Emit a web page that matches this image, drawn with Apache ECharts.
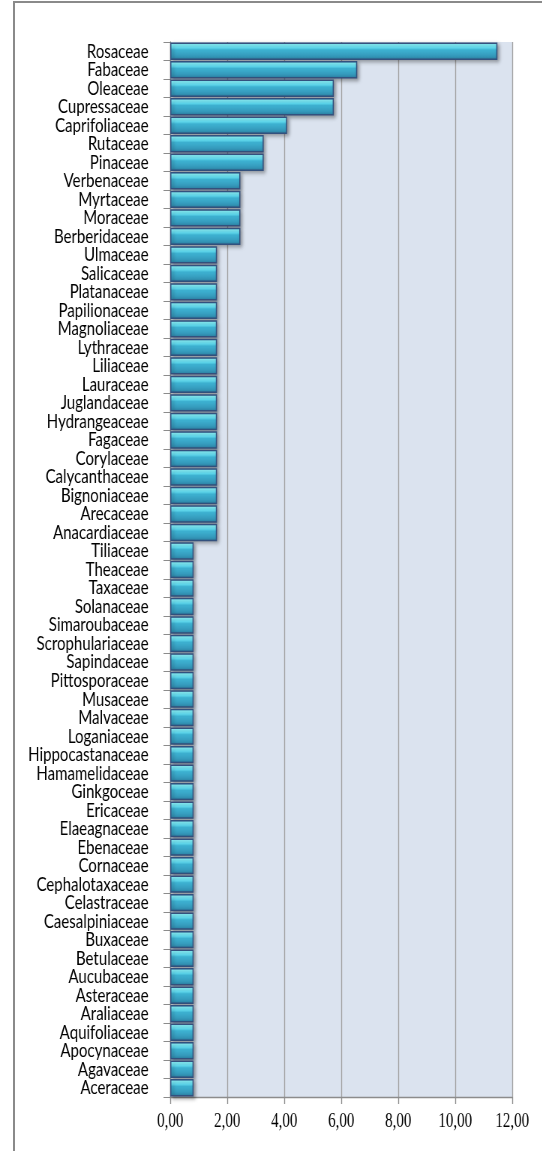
<!DOCTYPE html>
<html>
<head>
<meta charset="utf-8">
<title>Families</title>
<script src="https://cdn.jsdelivr.net/npm/echarts@6/dist/echarts.min.js"></script>
<style>
  html, body { margin: 0; padding: 0; background: #ffffff; overflow: hidden; }
  #frame { position: relative; width: 542px; height: 1151px; overflow: hidden; }
  /* chart is laid out wider and squeezed horizontally, giving condensed lettering */
  #chart { width: 723px; height: 1151px; transform: scaleX(0.75); transform-origin: 0 0; }
  #border { position: absolute; left: 13px; top: 1px; width: 700px; height: 1300px;
            border: 2px solid #8a8a8a; box-sizing: border-box; pointer-events: none; }
</style>
</head>
<body>
<div id="frame">
  <div id="chart"></div>
  <div id="border"></div>
</div>
<script>
// Plant families, listed top to bottom
const families = [
  'Rosaceae', 'Fabaceae', 'Oleaceae', 'Cupressaceae', 'Caprifoliaceae', 'Rutaceae',
  'Pinaceae', 'Verbenaceae', 'Myrtaceae', 'Moraceae', 'Berberidaceae', 'Ulmaceae',
  'Salicaceae', 'Platanaceae', 'Papilionaceae', 'Magnoliaceae', 'Lythraceae', 'Liliaceae',
  'Lauraceae', 'Juglandaceae', 'Hydrangeaceae', 'Fagaceae', 'Corylaceae', 'Calycanthaceae',
  'Bignoniaceae', 'Arecaceae', 'Anacardiaceae', 'Tiliaceae', 'Theaceae', 'Taxaceae',
  'Solanaceae', 'Simaroubaceae', 'Scrophulariaceae', 'Sapindaceae', 'Pittosporaceae', 'Musaceae',
  'Malvaceae', 'Loganiaceae', 'Hippocastanaceae', 'Hamamelidaceae', 'Ginkgoceae', 'Ericaceae',
  'Elaeagnaceae', 'Ebenaceae', 'Cornaceae', 'Cephalotaxaceae', 'Celastraceae', 'Caesalpiniaceae',
  'Buxaceae', 'Betulaceae', 'Aucubaceae', 'Asteraceae', 'Araliaceae', 'Aquifoliaceae',
  'Apocynaceae', 'Agavaceae', 'Aceraceae'
];

// Share of species per family (%)
const shares = [
  11.48, 6.56, 5.74, 5.74, 4.10, 3.28,
  3.28, 2.46, 2.46, 2.46, 2.46, 1.64,
  1.64, 1.64, 1.64, 1.64, 1.64, 1.64,
  1.64, 1.64, 1.64, 1.64, 1.64, 1.64,
  1.64, 1.64, 1.64, 0.82, 0.82, 0.82,
  0.82, 0.82, 0.82, 0.82, 0.82, 0.82,
  0.82, 0.82, 0.82, 0.82, 0.82, 0.82,
  0.82, 0.82, 0.82, 0.82, 0.82, 0.82,
  0.82, 0.82, 0.82, 0.82, 0.82, 0.82,
  0.82, 0.82, 0.82
];

// Value axis range
const axisMin = 0;
const axisMax = 12;
const axisStep = 2;

const chart = echarts.init(document.getElementById('chart'), null, { renderer: 'canvas' });

// Bevelled cyan fill for the bars
const barFill = new echarts.graphic.LinearGradient(0, 0, 0, 1, [
  { offset: 0.00, color: '#4fc9e6' },
  { offset: 0.12, color: '#8af6ff' },
  { offset: 0.30, color: '#62e0f6' },
  { offset: 0.42, color: '#3eb3d3' },
  { offset: 0.80, color: '#3497b9' },
  { offset: 1.00, color: '#2c7fa3' }
]);

chart.setOption({
  backgroundColor: '#ffffff',
  animation: false,
  grid: {
    left: 227, right: 40, top: 42, bottom: 54,
    show: true,
    backgroundColor: '#dbe3ef',
    borderWidth: 0
  },
  xAxis: {
    type: 'value',
    min: axisMin,
    max: axisMax,
    interval: axisStep,
    axisLine: { show: true, lineStyle: { color: '#8c8c8c', width: 1.33 } },
    axisTick: { show: true, length: 7, lineStyle: { color: '#8c8c8c', width: 1.33 } },
    splitLine: { show: true, lineStyle: { color: '#a2a2a2', width: 1.33 } },
    axisLabel: {
      margin: 15,
      color: '#000000',
      fontFamily: 'Liberation Serif',
      fontSize: 20,
      formatter: v => v.toFixed(2).replace('.', ',')
    }
  },
  yAxis: {
    type: 'category',
    inverse: true,
    data: families,
    axisLine: { show: true, lineStyle: { color: '#8c8c8c', width: 1.33 } },
    axisTick: { show: true, length: 9, alignWithLabel: false, lineStyle: { color: '#8c8c8c' } },
    axisLabel: {
      margin: 29,
      color: '#000000',
      fontFamily: 'Lato',
      fontSize: 20,
      interval: 0
    }
  },
  series: [{
    type: 'bar',
    data: shares,
    barCategoryGap: '6%',
    itemStyle: {
      color: barFill,
      borderColor: '#33517e',
      borderWidth: 1.5,
      shadowColor: 'rgba(0,0,0,0.35)',
      shadowBlur: 4,
      shadowOffsetX: 2.5,
      shadowOffsetY: 2
    }
  }]
});
</script>
</body>
</html>
